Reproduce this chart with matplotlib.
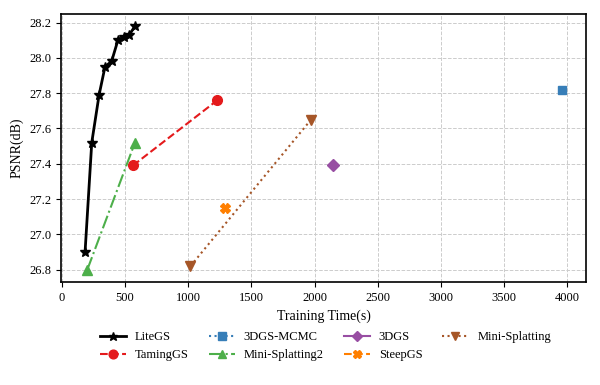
import matplotlib
matplotlib.use('Agg')
import matplotlib.pyplot as plt

plt.rcParams['font.family'] = ['Liberation Serif', 'DejaVu Serif']
plt.rcParams['font.size'] = 9

# training time (s) and PSNR (dB)
litegs_t = [184, 237, 295, 342, 394, 444, 492, 534, 579]
litegs_p = [26.90, 27.52, 27.79, 27.95, 27.98, 28.10, 28.12, 28.13, 28.18]
taming_t = [563, 1231]
taming_p = [27.39, 27.76]
mcmc_t = [3960]
mcmc_p = [27.82]
minis2_t = [202, 579]
minis2_p = [26.80, 27.52]
gs3d_t = [2148]
gs3d_p = [27.39]
steep_t = [1291]
steep_p = [27.15]
minis_t = [1018, 1972]
minis_p = [26.82, 27.65]

fig = plt.figure(figsize=(6, 3.85), dpi=100)
ax = fig.add_axes([0.102, 0.268, 0.875, 0.696])

ax.plot(litegs_t, litegs_p, '-*', color='black', lw=2, ms=7, label='LiteGS')
ax.plot(taming_t, taming_p, '--o', color='#e41a1c', lw=1.5, ms=7, label='TamingGS')
ax.plot(mcmc_t, mcmc_p, ':s', color='#377eb8', lw=1.5, ms=6, label='3DGS-MCMC')
ax.plot(minis2_t, minis2_p, '-.^', color='#4daf4a', lw=1.5, ms=7, label='Mini-Splatting2')
ax.plot(gs3d_t, gs3d_p, '-D', color='#984ea3', lw=1.5, ms=6, label='3DGS')
ax.plot(steep_t, steep_p, '--X', color='#ff7f00', lw=1.5, ms=7, label='SteepGS')
ax.plot(minis_t, minis_p, ':v', color='#a65628', lw=1.5, ms=7, label='Mini-Splatting')

ax.set_xlabel('Training Time(s)', fontsize=10)
ax.set_ylabel('PSNR(dB)', fontsize=10)
ax.set_xticks(range(0, 4001, 500))
ax.grid(True, linestyle='--', color='#cccccc', lw=0.7)
for s in ax.spines.values():
    s.set_linewidth(1.2)

fig.legend(loc='upper left', bbox_to_anchor=(0.158, 0.152), ncol=4, frameon=False,
           columnspacing=1.6, handlelength=2.1, handletextpad=0.7,
           labelspacing=0.45, borderaxespad=0, markerscale=0.9)

fig.savefig('out.png', dpi=100)
